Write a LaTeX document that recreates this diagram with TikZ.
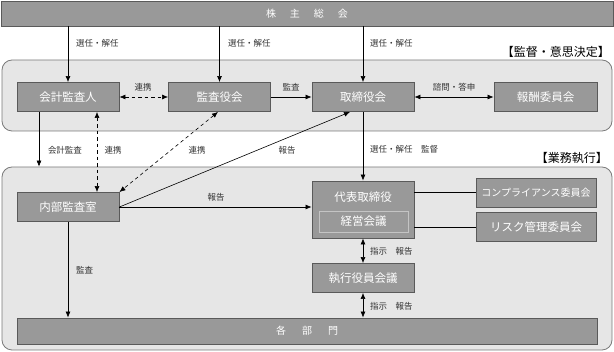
\documentclass[tikz,border=0pt]{standalone}
\usepackage{fontspec}
\setmainfont{Noto Sans CJK JP}
\usepackage{tikz}
\usetikzlibrary{
  arrows.meta,
  calc,
  positioning
}
\usepackage{xcolor}
\definecolor{boxfill}{HTML}{999999}
\definecolor{boxline}{HTML}{5A5A5A}
\definecolor{panelfill}{HTML}{E6E6E6}
\definecolor{panelline}{HTML}{7A7A7A}
\definecolor{innerline}{HTML}{C4C4C4}
\definecolor{lbltext}{HTML}{333333}

\begin{document}
\begin{tikzpicture}[
  x=1pt, y=-1pt,
  box/.style={rectangle, draw=boxline, fill=boxfill, line width=0.9pt, text=white, font=\fontsize{11.5}{13}\selectfont, minimum width=102pt, minimum height=29pt, inner sep=0pt},
  bar/.style={box, font=\fontsize{10}{12}\selectfont},
  inbox/.style={rectangle, draw=innerline, fill=boxfill, line width=0.8pt, text=white, font=\fontsize{11.5}{13}\selectfont, minimum width=89pt, minimum height=21pt, inner sep=0pt},
  panel/.style={rectangle, draw=panelline, fill=panelfill, line width=0.8pt, rounded corners=10pt, inner sep=0pt},
  lbl/.style={font=\fontsize{8.5}{10}\selectfont, text=lbltext, inner sep=1pt},
  group/.style={font=\fontsize{12}{14}\selectfont, text=black, inner sep=1pt},
  arrow/.style={-{Latex[length=6pt,width=5pt]}, line width=0.6pt},
  twoway/.style={{Latex[length=6pt,width=5pt]}-{Latex[length=6pt,width=5pt]}, line width=0.6pt},
  link/.style={twoway, dashed, dash pattern=on 3.5pt off 3pt},
  plain/.style={line width=0.6pt},
]
\useasboundingbox (0,0) rectangle (614,352);

% Panels
\node[panel, minimum width=610pt, minimum height=71pt] (kantoku) at (307, 95.5) {};
\node[panel, minimum width=610pt, minimum height=183pt] (gyomu) at (307, 258.5) {};
\node[group, anchor=east] (kantoku_t) at (611, 51.5) {【監督・意思決定】};
\node[group, anchor=east] (gyomu_t) at (609, 158.5) {【業務執行】};

% Shareholders
\node[bar, minimum width=612pt, minimum height=25pt] (soukai) at (307, 13.5) {株\hspace{1.4em}主\hspace{1.4em}総\hspace{1.4em}会};

% Supervision row
\node[box] (kaikei) at (68, 97) {会計監査人};
\node[box] (kansayaku) at (219.5, 97) {監査役会};
\node[box] (torishimari) at (363, 97) {取締役会};
\node[box, minimum width=103pt] (hoshu) at (545.5, 97) {報酬委員会};

% Execution
\node[box] (naibu) at (68, 207) {内部監査室};
\node[box, minimum height=57pt] (daihyo) at (363, 209.5) {};
\node[text=white, font=\fontsize{11.5}{13}\selectfont, inner sep=0pt] (daihyo_t) at (363, 197) {代表取締役};
\node[inbox] (keiei) at (363.5, 221.5) {経営会議};
\node[box, minimum width=120pt, font=\fontsize{10}{12}\selectfont] (compliance) at (536, 192.5) {コンプライアンス委員会};
\node[box, minimum width=120pt] (risk) at (536, 227) {リスク管理委員会};
\node[box] (shikko) at (363, 278) {執行役員会議};
\node[bar, minimum width=580pt, minimum height=26pt] (kakubu) at (307, 331) {各\hspace{1.6em}部\hspace{1.6em}門};

% Arrows
\draw[arrow] (kaikei.north |- soukai.south) -- (kaikei.north);
\draw[arrow] (kansayaku.north |- soukai.south) -- (kansayaku.north);
\draw[arrow] (torishimari.north |- soukai.south) -- (torishimari.north);
\draw[link] (kaikei.east) -- (kansayaku.west);
\draw[arrow] (kansayaku.east) -- (torishimari.west);
\draw[twoway] (torishimari.east) -- (hoshu.west);
\draw[arrow] ([xshift=-29pt]kaikei.south) -- ([xshift=-29pt]kaikei.south |- gyomu.north);
\draw[link] ([xshift=29pt]kaikei.south) -- ([xshift=29pt]naibu.north);
\draw[link] ([xshift=-1.5pt]kansayaku.south) -- (naibu.north east);
\draw[arrow] (naibu.east) -- ([xshift=-13pt]torishimari.south);
\draw[arrow] (naibu.east) -- (naibu.east -| daihyo.west);
\draw[arrow] (torishimari.south) -- (daihyo.north);
\draw[plain] (compliance.west -| daihyo.east) -- (compliance.west);
\draw[plain] (risk.west -| daihyo.east) -- (risk.west);
\draw[twoway] (daihyo.south) -- (shikko.north);
\draw[twoway] (shikko.south) -- (shikko.south |- kakubu.north);
\draw[arrow] (naibu.south) -- (naibu.south |- kakubu.north);

% Labels
\node[lbl, anchor=west] at (75, 43) {選任・解任};
\node[lbl, anchor=west] at (227, 43) {選任・解任};
\node[lbl, anchor=west] at (369, 43) {選任・解任};
\node[lbl] at (143, 87.5) {連携};
\node[lbl] at (291, 87.5) {監査};
\node[lbl] at (454, 87.5) {諮問・答申};
\node[lbl] at (65, 150) {会計監査};
\node[lbl] at (113, 150) {連携};
\node[lbl] at (197, 150) {連携};
\node[lbl] at (287, 150) {報告};
\node[lbl, anchor=west] at (369, 149.5) {選任・解任\hspace{1em}監督};
\node[lbl] at (216, 197) {報告};
\node[lbl, anchor=west] at (369, 251.5) {指示\hspace{1em}報告};
\node[lbl, anchor=west] at (369, 306) {指示\hspace{1em}報告};
\node[lbl, anchor=west] at (75, 270) {監査};
\end{tikzpicture}
\end{document}
